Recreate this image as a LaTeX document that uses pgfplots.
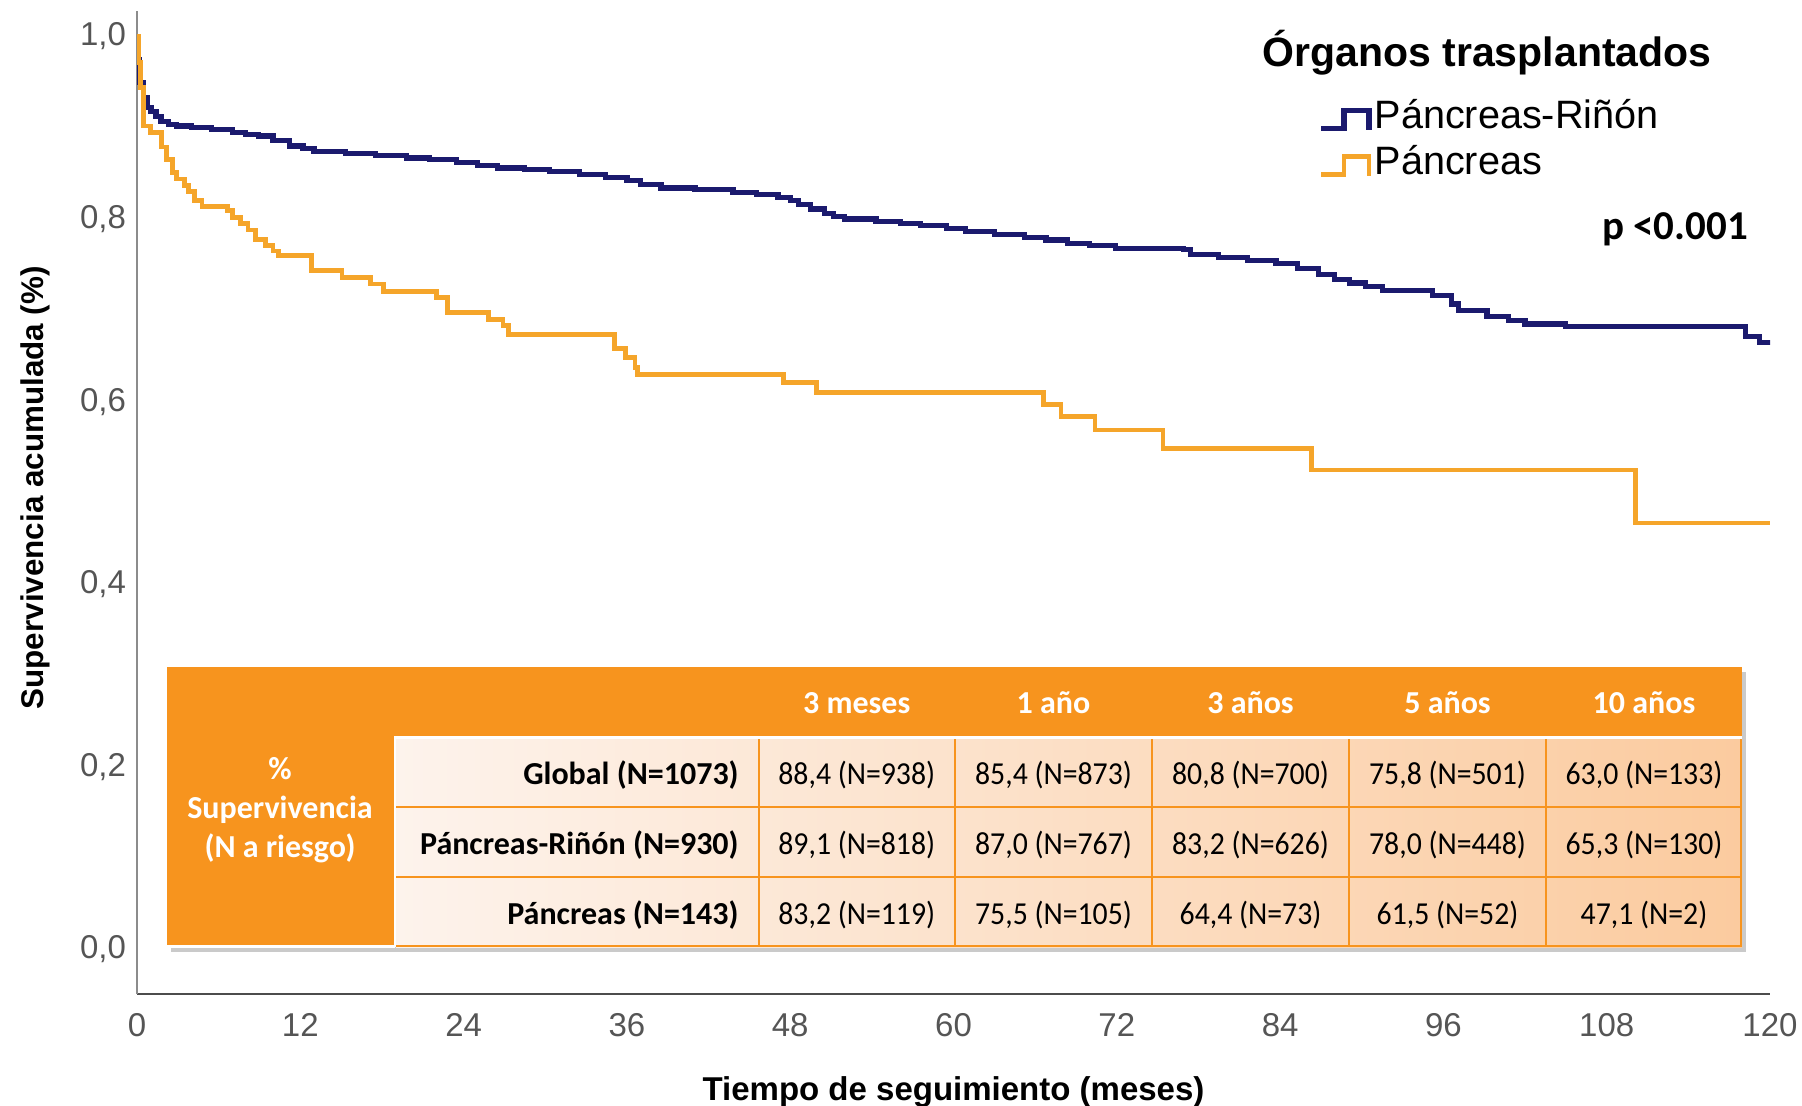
\documentclass[border=0pt]{standalone}
\usepackage{fontspec}
\setmainfont{Liberation Sans}
\newfontfamily\calfont{Carlito}
\newfontfamily\calnarrow[FakeStretch=0.93]{Carlito}
\usepackage{pgfplots}
\pgfplotsset{compat=1.18}
\usetikzlibrary{shadows}
\definecolor{navy}{HTML}{1B1A6E}
\definecolor{kmorange}{HTML}{F5A52A}
\definecolor{tborange}{HTML}{F7941E}
\definecolor{rowleft}{HTML}{FDF3EC}
\definecolor{rowright}{HTML}{FBCB9F}
\definecolor{axgray}{HTML}{8C8C8C}
\definecolor{ticktext}{HTML}{555555}
\begin{document}
\begin{tikzpicture}
\useasboundingbox (0,0) rectangle (901pt,-553pt);
\begin{axis}[
  at={(68.5pt,-497pt)}, anchor=south west,
  scale only axis, width=816.5pt, height=491.5pt,
  xmin=0, xmax=120, ymin=-0.049, ymax=1.028,
  axis x line*=bottom, axis y line*=left,
  x axis line style={-, draw=black!70, line width=1.1pt},
  y axis line style={-, draw=axgray, line width=1.1pt},
  xtick={0,12,...,120}, ytick={0,0.2,0.4,0.6,0.8,1},
  major tick length=0pt,
  /pgf/number format/assume math mode=true,
  tick label style={font=\fontsize{16.5}{19}\selectfont, text=ticktext},
  xticklabel style={anchor=center, yshift=-15.5pt},
  yticklabel style={anchor=center, xshift=-17pt, /pgf/number format/.cd, fixed, fixed zerofill, precision=1, use comma},
  xlabel={Tiempo de seguimiento (meses)},
  ylabel={Supervivencia acumulada (\%)},
  xlabel style={at={(axis description cs:0.5,-0.0993)}, anchor=center, font=\bfseries\fontsize{16.5}{20}\selectfont},
  ylabel style={at={(axis description cs:-0.062,0.515)}, anchor=center, font=\bfseries\fontsize{15.7}{19}\selectfont},
  legend style={at={(rel axis cs:0.7232,0.8665)}, anchor=west, draw=none, fill=none, inner sep=0pt, row sep=0.6pt,
    font=\fontsize{19.8}{23}\selectfont, nodes={inner sep=1.5pt, text height=14.5pt, text depth=5pt}},
  legend cell align=left,
  legend image code/.code={\draw[#1] (0pt,-4.5pt) -- (11.5pt,-4.5pt) -- (11.5pt,4.5pt) -- (24pt,4.5pt) -- (24pt,-5.5pt);},
]
\addplot[const plot, navy, line width=2.6pt] coordinates {
(0,0.975) (0.2,0.95) (0.47,0.933) (0.8,0.922) (1.03,0.918) (1.4,0.912) (1.76,0.907)
(2.3,0.904) (2.9,0.902) (4.0,0.900) (5.5,0.898) (7.0,0.895) (8.0,0.893) (8.9,0.891)
(10.0,0.886) (11.2,0.880) (12.2,0.877) (13.0,0.874) (15.3,0.872) (17.5,0.870) (19.8,0.867)
(21.5,0.865) (23.5,0.862) (25.0,0.859) (26.5,0.856) (28.5,0.854) (30.3,0.852) (32.5,0.849)
(34.4,0.846) (36.0,0.842) (37.0,0.838) (38.5,0.834) (41.0,0.832) (43.8,0.829) (45.5,0.827)
(47.1,0.824) (48.0,0.820) (48.6,0.816) (49.5,0.811) (50.5,0.806) (51.2,0.803) (52.0,0.800)
(54.3,0.797) (56.1,0.795) (57.6,0.793) (59.5,0.790) (60.9,0.786) (63.0,0.783) (65.2,0.780)
(66.8,0.777) (68.4,0.773) (70.0,0.771) (71.9,0.768) (76.9,0.767) (77.4,0.761) (79.5,0.758)
(81.6,0.755) (83.7,0.751) (85.3,0.746) (86.8,0.739) (88.0,0.734) (89.1,0.730) (90.3,0.726)
(91.5,0.722) (95.2,0.716) (96.6,0.707) (97.1,0.700) (99.2,0.693) (100.8,0.689) (102.0,0.685)
(105.0,0.682) (118.2,0.671) (119.2,0.665) (120,0.662)
};
\addlegendentry{Páncreas-Riñón}
\addplot[const plot, kmorange, line width=2.4pt] coordinates {
(0,1.0) (0.1,0.972) (0.25,0.944) (0.47,0.902) (1.0,0.895) (1.78,0.879) (2.15,0.865)
(2.6,0.851) (2.9,0.844) (3.47,0.837) (3.8,0.830) (4.2,0.820) (4.78,0.814) (6.66,0.809)
(7.0,0.802) (7.6,0.795) (8.16,0.788) (8.7,0.778) (9.47,0.771) (10.0,0.765) (10.4,0.760)
(12.8,0.744) (15.07,0.736) (17.15,0.729) (18.1,0.721) (22.0,0.714) (22.8,0.698) (25.8,0.690)
(26.9,0.683) (27.3,0.674) (35.1,0.658) (35.9,0.648) (36.6,0.637) (36.8,0.630) (47.5,0.621)
(49.96,0.610) (66.6,0.597) (67.9,0.584) (70.4,0.569) (75.4,0.549) (86.3,0.525) (110.1,0.467)
(120,0.467)
};
\addlegendentry{Páncreas}
\node[font=\bfseries\fontsize{20.5}{24}\selectfont] at (rel axis cs:0.8267,0.9573) {Órganos trasplantados};
\node[font=\calfont\bfseries\fontsize{20.5}{24}\selectfont] at (rel axis cs:0.9418,0.778) {p <0.001};
\end{axis}
\begin{scope}[x=0.5pt, y=-0.5pt]
\fill[tborange, drop shadow={opacity=0.35, shadow xshift=2pt, shadow yshift=-2.5pt, fill=black!60}] (167,667) rectangle (1742,947);
\shade[left color=rowleft, right color=rowright] (396,739) rectangle (1742,947);
\draw[white, line width=1.5pt] (394,737.5) -- (1742,737.5);
\draw[white, line width=1.2pt] (395,737) -- (395,947);
\draw[white, line width=1.2pt] (167,946.5) -- (395,946.5);
\draw[tborange, line width=1pt] (396,807) -- (1742,807) (396,877) -- (1742,877) (396,946) -- (1742,946);
\foreach \xx in {758.5,955,1152,1349,1546,1741} {\draw[tborange, line width=1pt] (\xx,739) -- (\xx,947);}
\begin{scope}[every node/.style={inner sep=0pt, anchor=base}]
\foreach \xx/\hh in {856.75/{3 meses},1053.5/{1 año},1250.5/{3 años},1447.5/{5 años},1644/{10 años}}
  {\node[text=white, font=\calfont\bfseries\fontsize{16}{19}\selectfont] at (\xx,713) {\hh};}
\node[text=white, font=\calfont\bfseries\fontsize{16}{19}\selectfont] at (280,779) {\%};
\node[text=white, font=\calfont\bfseries\fontsize{16}{19}\selectfont] at (280,818) {Supervivencia};
\node[text=white, font=\calfont\bfseries\fontsize{16}{19}\selectfont] at (280,857) {(N a riesgo)};
\node[anchor=base east, font=\calfont\bfseries\fontsize{16}{19}\selectfont] at (739,784) {Global (N=1073)};
\node[anchor=base east, font=\calfont\bfseries\fontsize{16}{19}\selectfont] at (739,854) {Páncreas-Riñón (N=930)};
\node[anchor=base east, font=\calfont\bfseries\fontsize{16}{19}\selectfont] at (739,924) {Páncreas (N=143)};
\foreach \xx/\va/\vb/\vc in {856.75/{88,4 (N=938)}/{89,1 (N=818)}/{83,2 (N=119)},
  1053.5/{85,4 (N=873)}/{87,0 (N=767)}/{75,5 (N=105)},
  1250.5/{80,8 (N=700)}/{83,2 (N=626)}/{64,4 (N=73)},
  1447.5/{75,8 (N=501)}/{78,0 (N=448)}/{61,5 (N=52)},
  1644/{63,0 (N=133)}/{65,3 (N=130)}/{47,1 (N=2)}}
  {\node[font=\calnarrow\fontsize{16}{19}\selectfont] at (\xx,784) {\va};
   \node[font=\calnarrow\fontsize{16}{19}\selectfont] at (\xx,854) {\vb};
   \node[font=\calnarrow\fontsize{16}{19}\selectfont] at (\xx,924) {\vc};}
\end{scope}
\end{scope}
\end{tikzpicture}
\end{document}
